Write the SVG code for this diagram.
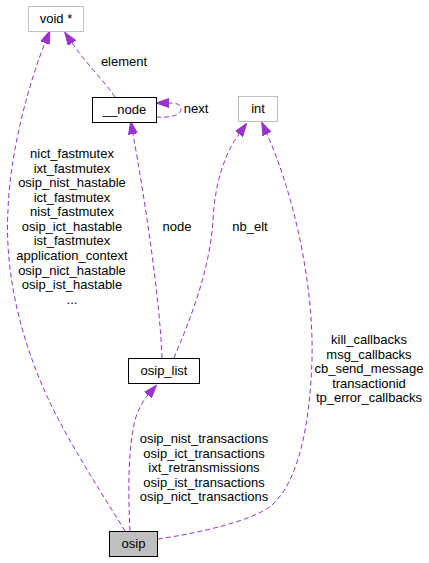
<svg xmlns="http://www.w3.org/2000/svg" width="429" height="563" viewBox="0 0 429 563">
<style>
text{font-family:"Liberation Sans",Arial,Helvetica,sans-serif;font-size:13px;fill:#000;text-anchor:middle}
.e{fill:none;stroke:#9a32cd;stroke-width:1;stroke-dasharray:5,3}
.n{fill:#fff;stroke:#000;stroke-width:1}
.g{fill:#fff;stroke:#bfbfbf;stroke-width:1}
.c{fill:#bfbfbf;stroke:#000;stroke-width:1}
</style>
<defs>
<marker id="a" viewBox="0 -5 13 10" refX="0" refY="0" markerWidth="13" markerHeight="10" markerUnits="userSpaceOnUse" orient="auto">
<path d="M0,-4.5 L13,0 L0,4.5 z" fill="#9a32cd" stroke="#9a32cd"/>
</marker>
</defs>
<rect width="429" height="563" fill="#fff"/>
<g id="edges">
<path class="e" marker-end="url(#a)" d="M125,531 C100,490 60,430 40,380 C15,320 5,260 8,210 C10,150 30,80 45,43"/>
<path class="e" marker-end="url(#a)" d="M115,97 C105,82 85,62 72,43"/>
<path class="e" marker-end="url(#a)" d="M156,117 C168,118 181,116 181,109 C181,104 176,103 169,103"/>
<path class="e" marker-end="url(#a)" d="M162,358 C160,300 145,200 133,134"/>
<path class="e" marker-end="url(#a)" d="M174,358 C190,320 210,270 213,220 C215,180 226,152 239,134"/>
<path class="e" marker-end="url(#a)" d="M158,539 C200,533 255,520 272,505 C300,480 310,420 312,360 C314,280 292,190 267,134"/>
<path class="e" marker-end="url(#a)" d="M130,531 C128,490 128,450 135,420 C138,410 142,402 148,395"/>
</g>
<g id="labels">
<text x="124" y="66">element</text>
<text x="196" y="113">next</text>
<text x="72" y="158">nict_fastmutex</text>
<text x="72" y="173">ixt_fastmutex</text>
<text x="72" y="187">osip_nist_hastable</text>
<text x="72" y="202">ict_fastmutex</text>
<text x="72" y="216">nist_fastmutex</text>
<text x="72" y="231">osip_ict_hastable</text>
<text x="72" y="245">ist_fastmutex</text>
<text x="72" y="260">application_context</text>
<text x="72" y="275">osip_nict_hastable</text>
<text x="72" y="289">osip_ist_hastable</text>
<text x="72" y="304">...</text>
<text x="177" y="231">node</text>
<text x="250" y="231">nb_elt</text>
<text x="369" y="344">kill_callbacks</text>
<text x="369" y="359">msg_callbacks</text>
<text x="369" y="373">cb_send_message</text>
<text x="369" y="388">transactionid</text>
<text x="369" y="402">tp_error_callbacks</text>
<text x="204" y="443">osip_nist_transactions</text>
<text x="204" y="458">osip_ict_transactions</text>
<text x="204" y="472">ixt_retransmissions</text>
<text x="204" y="487">osip_ist_transactions</text>
<text x="204" y="501">osip_nict_transactions</text>
</g>
<g id="void"><rect class="g" x="28.5" y="6.5" width="55" height="25"/><text x="56" y="23">void *</text></g>
<g id="node"><rect class="n" x="92.5" y="97.5" width="64" height="25"/><text x="124.5" y="114">__node</text></g>
<g id="int"><rect class="g" x="238.5" y="96.5" width="39" height="25"/><text x="258" y="113">int</text></g>
<g id="osip_list"><rect class="n" x="128.5" y="358.5" width="71" height="25"/><text x="164" y="375">osip_list</text></g>
<g id="osip"><rect class="c" x="109.5" y="531.5" width="48" height="25"/><text x="133.5" y="548">osip</text></g>
</svg>
